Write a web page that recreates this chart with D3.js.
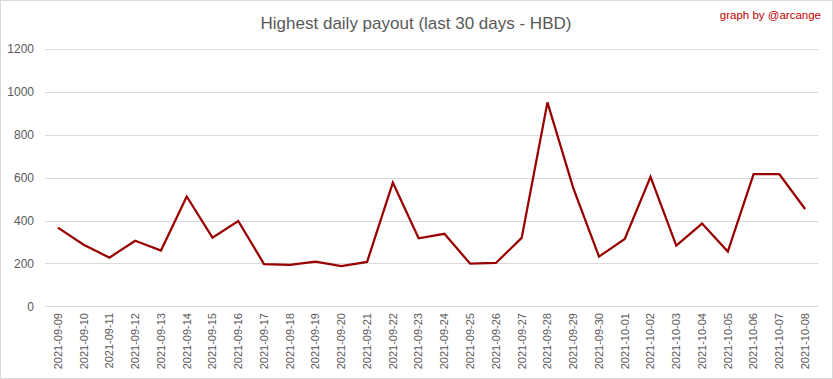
<!DOCTYPE html>
<html><head><meta charset="utf-8">
<script src="https://cdn.jsdelivr.net/npm/d3@7"></script>
<style>body{margin:0;background:#fff}svg{display:block}</style>
</head><body>
<script>
const dates = ["2021-09-09","2021-09-10","2021-09-11","2021-09-12","2021-09-13","2021-09-14","2021-09-15","2021-09-16","2021-09-17","2021-09-18","2021-09-19","2021-09-20","2021-09-21","2021-09-22","2021-09-23","2021-09-24","2021-09-25","2021-09-26","2021-09-27","2021-09-28","2021-09-29","2021-09-30","2021-10-01","2021-10-02","2021-10-03","2021-10-04","2021-10-05","2021-10-06","2021-10-07","2021-10-08"];
const payout = [367,287,227,306,260,512,320,398,197,193,208,188,207,577,317,338,199,202,319,951,552,232,314,604,283,386,255,616,616,454];
const yTicks = [0,200,400,600,800,1000,1200];

const W=833,H=379;
const m={l:45,r:15,t:49,b:73};
const svg=d3.select("body").append("svg").attr("width",W).attr("height",H);
svg.append("rect").attr("x",0.5).attr("y",0.5).attr("width",W-1).attr("height",H-1).attr("fill","#fff").attr("stroke","#d9d9d9");

const x=d3.scaleBand().domain(dates).range([m.l,W-m.r]);
const y=d3.scaleLinear().domain([0,1200]).range([306.3,49]);

const font="'Liberation Sans', Arial, sans-serif";
svg.append("g").selectAll("line").data(yTicks).join("line")
  .attr("x1",m.l).attr("x2",W-m.r).attr("y1",d=>Math.round(y(d))+0.5).attr("y2",d=>Math.round(y(d))+0.5)
  .attr("stroke","#d9d9d9").attr("stroke-width",1);

svg.append("g").selectAll("text").data(yTicks).join("text")
  .attr("x",34).attr("y",d=>y(d)).attr("dy","0.35em").attr("text-anchor","end")
  .attr("font-family",font).attr("font-size",12).attr("fill","#595959").text(d=>d);

svg.append("g").selectAll("text").data(dates).join("text")
  .attr("transform",d=>`translate(${x(d)+x.bandwidth()/2},313) rotate(-90)`)
  .attr("dy","0.35em").attr("text-anchor","end")
  .attr("font-family",font).attr("font-size",11).attr("fill","#595959").text(d=>d);

const line=d3.line().x((d,i)=>x(dates[i])+x.bandwidth()/2).y(d=>y(d));
svg.append("path").datum(payout).attr("d",line).attr("fill","none")
  .attr("stroke","#990000").attr("stroke-width",2.25).attr("stroke-linejoin","miter");

svg.append("text").attr("x",416).attr("y",29).attr("text-anchor","middle")
  .attr("font-family",font).attr("font-size",17).attr("fill","#595959")
  .text("Highest daily payout (last 30 days - HBD)");
svg.append("text").attr("x",821).attr("y",19).attr("text-anchor","end")
  .attr("font-family",font).attr("font-size",11.5).attr("fill","#c00000")
  .text("graph by @arcange");
</script>
</body></html>
